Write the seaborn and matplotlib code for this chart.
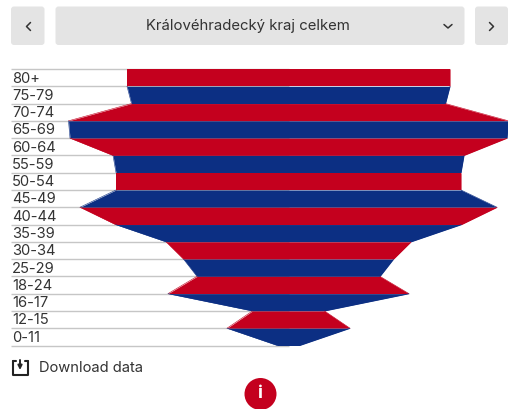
import numpy as np
import pandas as pd
import seaborn as sns
import matplotlib.pyplot as plt
from matplotlib.patches import FancyBboxPatch, Circle

sns.set_theme(style="white")
plt.rcParams['font.family'] = ['Inter', 'DejaVu Sans']

title = "Královéhradecký kraj celkem"
age_groups = ["80+", "75-79", "70-74", "65-69", "60-64", "55-59", "50-54", "45-49",
              "40-44", "35-39", "30-34", "25-29", "18-24", "16-17", "12-15", "0-11"]
# half width of the funnel at each band edge, top to bottom
edge_values = [161.5, 161.5, 157, 220, 218.5, 175.5, 172.5, 172.5, 208.5,
               173, 122.5, 105, 91.5, 120.5, 36, 61.5, 11]
RED = "#C4001E"
BLUE = "#0C2F83"
GRID = "#C6C6C6"
TEXT = "#333333"

W, H = 508, 409
TOP, BOTTOM, LEFT, CENTER = 69, 345.5, 11, 288.5

fig = plt.figure(figsize=(W / 100, H / 100), dpi=100)

# page chrome, in pixel coordinates
ui = fig.add_axes([0, 0, 1, 1])
ui.set_xlim(0, W)
ui.set_ylim(H, 0)
ui.axis("off")
for x0, x1 in [(11, 44.5), (55.5, 464.5), (475, 508)]:
    ui.add_patch(FancyBboxPatch((x0 + 3, 6.5 + 3), x1 - x0 - 6, 32.5, boxstyle="round,pad=3",
                                fc="#E4E4E4", ec="none"))
ui.text(247.5, 26, title, ha="center", va="center", fontsize=10.75, color=TEXT)
ui.plot([30.5, 26.5, 30.5], [22.5, 26.5, 30.5], color=TEXT, lw=1.1)
ui.plot([489.5, 493.5, 489.5], [22.5, 26.5, 30.5], color=TEXT, lw=1.1)
ui.plot([444, 448, 452], [24.5, 28, 24.5], color=TEXT, lw=1.1)

ui.plot([12.5, 12.5, 27.5, 27.5], [361, 375, 375, 361], color="#222222", lw=1.5)
ui.plot([12.5, 15.5], [361, 361], color="#222222", lw=1.5)
ui.plot([24.5, 27.5], [361, 361], color="#222222", lw=1.5)
ui.annotate("", xy=(20, 370), xytext=(20, 360),
            arrowprops=dict(arrowstyle="-|>", color="#222222", lw=1.4, mutation_scale=6, shrinkA=0, shrinkB=0))
ui.text(39, 368.5, "Download data", ha="left", va="center", fontsize=10.6, color=TEXT)

ui.add_patch(Circle((260.5, 394), 16, fc=RED, ec="none"))
ui.text(260.5, 394, "i", ha="center", va="center", fontsize=13, fontweight="bold", color="white")

# funnel, x in half width units around the centre, y in band numbers
ax = fig.add_axes([LEFT / W, 1 - BOTTOM / H, (W - LEFT) / W, (BOTTOM - TOP) / H])
ax.patch.set_alpha(0)
ax.set_xlim(LEFT - CENTER, W - CENTER)
ax.set_ylim(len(age_groups), 0)
ax.axis("off")

edges = np.arange(len(edge_values))
values = np.array(edge_values)

ax.hlines(edges, LEFT - CENTER, 0, color=GRID, lw=1, zorder=1, clip_on=False)

for i, age in enumerate(age_groups):
    color = RED if i % 2 == 0 else BLUE
    band = pd.DataFrame({"pos": edges[i:i + 2], "value": values[i:i + 2]})
    ax.fill_betweenx(band["pos"], -band["value"], band["value"], color=color, lw=0, zorder=2)
    sns.lineplot(data=band, x="value", y="pos", orient="y", color=color, lw=0.4, ax=ax, zorder=2)
    sns.lineplot(x=-band["value"], y=band["pos"], orient="y", color=color, lw=0.4, ax=ax, zorder=2)
    ax.text(LEFT - CENTER + 1, i + 0.55, age, ha="left", va="center", fontsize=10.6, color=TEXT, zorder=3)

ax.set_xlabel("")
ax.set_ylabel("")

fig.savefig("out.png", dpi=100)
